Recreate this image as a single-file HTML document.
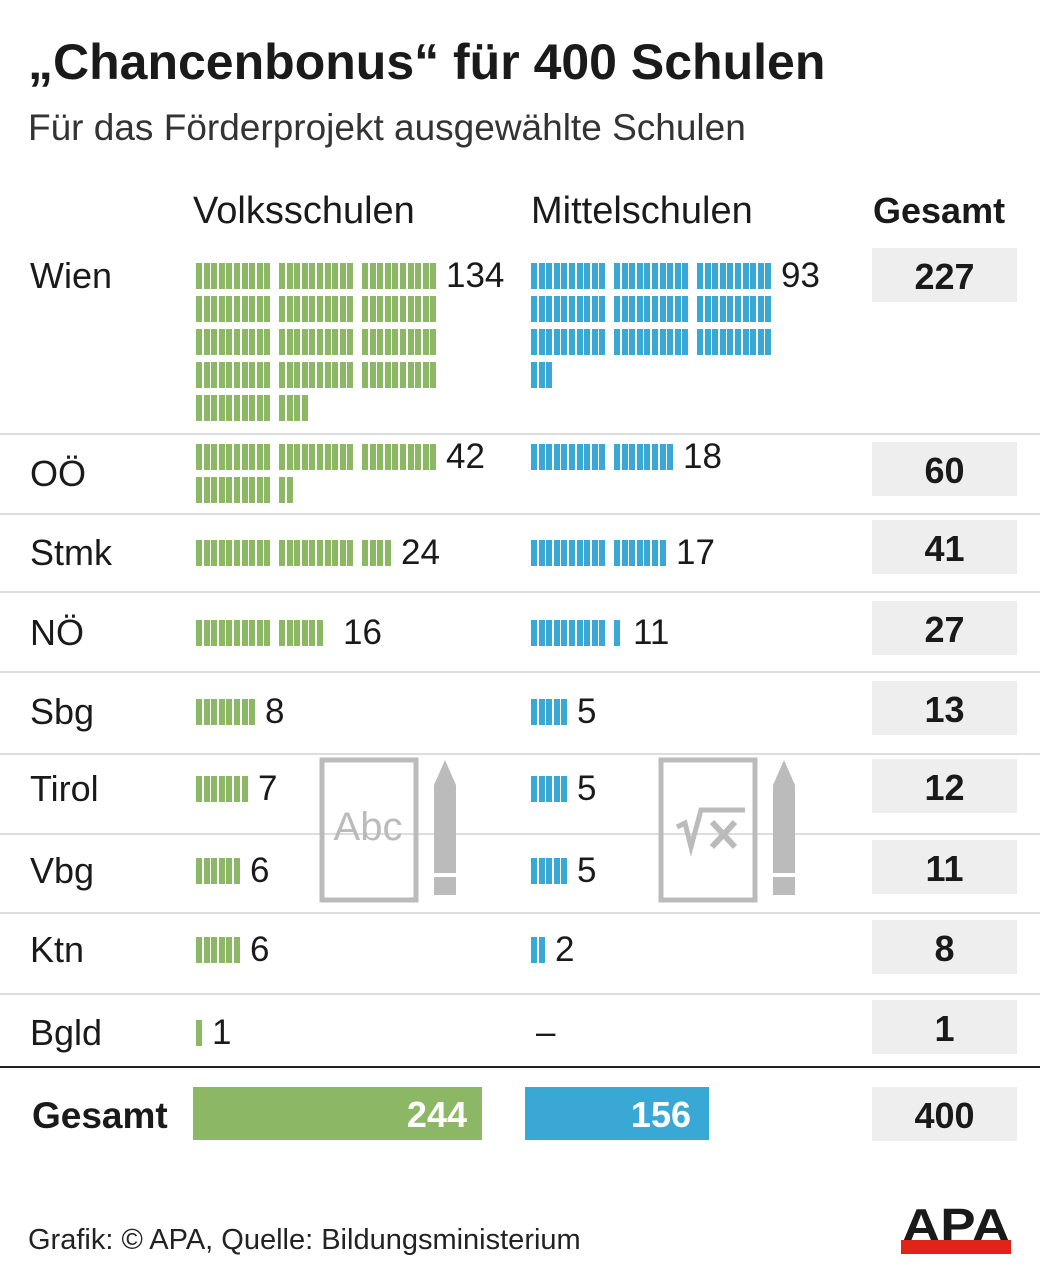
<!DOCTYPE html><html><head><meta charset="utf-8"><style>
body{margin:0;width:1040px;height:1283px;background:#fff;font-family:"Liberation Sans",sans-serif;color:#1a1a1a;position:relative;overflow:hidden}
.a{position:absolute;white-space:nowrap}
.t{position:absolute;height:26px}
.g{background:#8cb866}.b{background:#3aa8d5}
.line{position:absolute;left:0;width:1040px;height:2px;background:#ddd}
.box{position:absolute;left:872px;width:145px;height:54px;background:#eee;font-weight:bold;font-size:36px;text-align:center;line-height:58px}
.lab{font-size:35px}
.rl{font-size:36px}
</style></head><body>
<div class="a" style="left:28px;top:33px;font-size:50px;font-weight:bold">„Chancenbonus“ für 400 Schulen</div>
<div class="a" style="left:28px;top:107px;font-size:37px;color:#333">Für das Förderprojekt ausgewählte Schulen</div>
<div class="a" style="left:193px;top:190px;font-size:38px">Volksschulen</div>
<div class="a" style="left:531px;top:190px;font-size:38px">Mittelschulen</div>
<div class="a" style="left:873px;top:190px;font-size:36px;font-weight:bold">Gesamt</div>
<div id="c"></div>
<svg class="a" style="left:318px;top:755px" width="145" height="150"><rect x="4" y="5" width="94" height="140" fill="none" stroke="#bbb" stroke-width="5"/><text x="50" y="85" font-family="Liberation Sans" font-size="40" fill="#bbb" text-anchor="middle">Abc</text><path d="M116 140V30L127 5L138 30V140Z" fill="#bbb"/><rect x="116" y="118" width="22" height="4" fill="#fff"/></svg>
<svg class="a" style="left:657px;top:755px" width="145" height="150"><rect x="4" y="5" width="94" height="140" fill="none" stroke="#bbb" stroke-width="5"/><path d="M20 72L28 68L34 92L44 55H88" fill="none" stroke="#bbb" stroke-width="5"/><path d="M55 67L78 92M78 67L55 92" stroke="#bbb" stroke-width="6"/><path d="M116 140V30L127 5L138 30V140Z" fill="#bbb"/><rect x="116" y="118" width="22" height="4" fill="#fff"/></svg>
<div class="a" style="left:0;top:1066px;width:1040px;height:2px;background:#222"></div>
<div class="a" style="left:32px;top:1095px;font-size:37px;font-weight:bold">Gesamt</div>
<div class="a g" style="left:193px;top:1087px;width:289px;height:53px"></div>
<div class="a" style="left:193px;top:1094px;width:274px;text-align:right;color:#fff;font-size:36px;font-weight:bold">244</div>
<div class="a b" style="left:525px;top:1087px;width:184px;height:53px"></div>
<div class="a" style="left:525px;top:1094px;width:166px;text-align:right;color:#fff;font-size:36px;font-weight:bold">156</div>
<div class="box" style="top:1087px">400</div>
<div class="a" style="left:28px;top:1224px;font-size:29px;color:#222">Grafik: © APA, Quelle: Bildungsministerium</div>
<svg class="a" style="left:900px;top:1205px" width="112" height="50"><text x="2" y="36" font-family="Liberation Sans" font-weight="bold" font-size="46" textLength="108" lengthAdjust="spacingAndGlyphs" fill="#1a1a1a">APA</text><rect x="1" y="35" width="110" height="14" fill="#e2231a"/></svg>
<script>
var rows=[["Wien",263,134,93,227,248,0],["OÖ",444,42,18,60,442,17],["Stmk",540,24,17,41,520,0],["NÖ",620,16,11,27,601,0],["Sbg",699,8,5,13,681,0],["Tirol",776,7,5,12,759,0],["Vbg",858,6,5,11,840,0],["Ktn",937,6,2,8,920,0],["Bgld",1020,1,0,1,1000,0]];
var lines=[433,513,591,671,753,833,912,993];
var h="";
lines.forEach(function(y){h+='<div class="line" style="top:'+y+'px"></div>'});
function bars(x0,y0,n,cls){var lx=0;for(var i=0;i<n;i++){var r=Math.floor(i/30),k=i%30,grp=Math.floor(k/10),j=k%10;var x=Math.round(x0+grp*83+j*7.6);var y=y0+r*33;h+='<div class="t '+cls+'" style="left:'+x+'px;top:'+y+'px;width:6px"></div>';if(r==0){lx=Math.max(lx,x+6)}}return lx}
rows.forEach(function(r){var y=r[1];
h+='<div class="a rl" style="left:30px;top:'+(y-8+r[6])+'px">'+r[0]+'</div>';
var e=bars(196,y,r[2],'g');if(r[0]=="NÖ")e=333;h+='<div class="a lab" style="left:'+(e+10)+'px;top:'+(y-7)+'px">'+r[2]+'</div>';
if(r[3]>0){e=bars(531,y,r[3],'b');if(r[0]=="NÖ")e=623;h+='<div class="a lab" style="left:'+(e+10)+'px;top:'+(y-7)+'px">'+r[3]+'</div>';}else h+='<div class="a lab" style="left:536px;top:'+(y-7)+'px">–</div>';
h+='<div class="box" style="top:'+r[5]+'px">'+r[4]+'</div>';});
document.getElementById('c').innerHTML=h;
</script>
</body></html>
